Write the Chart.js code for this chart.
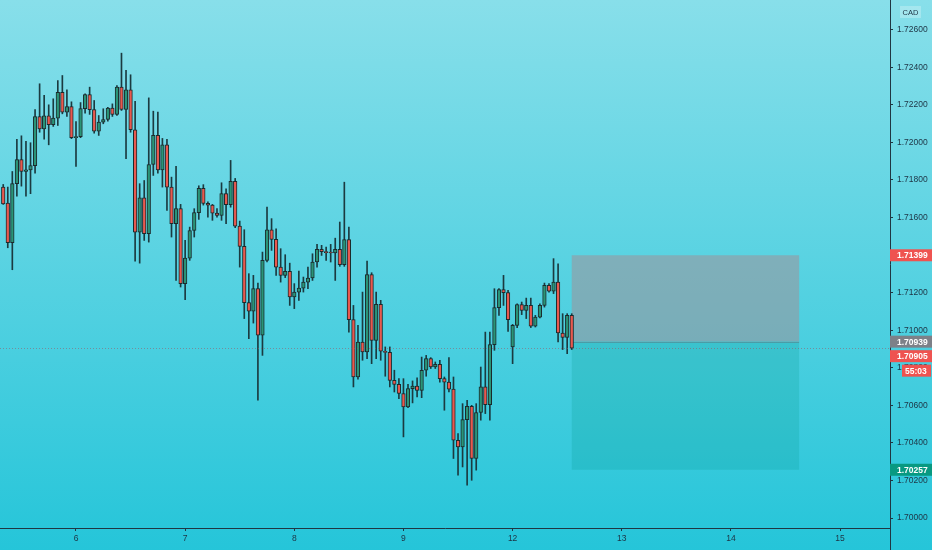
<!DOCTYPE html>
<html>
<head>
<meta charset="utf-8">
<script src="https://cdn.jsdelivr.net/npm/chart.js@4"></script>
<style>
  html, body { margin: 0; padding: 0; }
  #wrap { width: 932px; height: 550px; position: relative; }
</style>
</head>
<body>
<div id="wrap"><canvas id="graph"></canvas></div>
<script>
// hourly candles, index 0 = first bar on screen
const open = [
  1.71762, 1.71677, 1.71466, 1.71780, 1.71908, 1.71845, 1.71854, 1.71876, 1.72138, 1.72072,
  1.72142, 1.72094, 1.72129, 1.72267, 1.72161, 1.72191, 1.72025, 1.72030, 1.72180, 1.72255,
  1.72174, 1.72060, 1.72108, 1.72122, 1.72182, 1.72149, 1.72294, 1.72175, 1.72280, 1.72067,
  1.71522, 1.71705, 1.71514, 1.71882, 1.72038, 1.71854, 1.71987, 1.71762, 1.71567, 1.71647,
  1.71248, 1.71384, 1.71531, 1.71626, 1.71755, 1.71675, 1.71666, 1.71623, 1.71611, 1.71727,
  1.71668, 1.71792, 1.71554, 1.71446, 1.71147, 1.71102, 1.71221, 1.70973, 1.71372, 1.71535,
  1.71484, 1.71336, 1.71292, 1.71313, 1.71177, 1.71203, 1.71224, 1.71256, 1.71278, 1.71363,
  1.71430, 1.71418, 1.71413, 1.71411, 1.71430, 1.71349, 1.71482, 1.71056, 1.70751, 1.70937,
  1.70884, 1.71296, 1.70946, 1.71138, 1.70888, 1.70882, 1.70733, 1.70712, 1.70663, 1.70591,
  1.70689, 1.70703, 1.70680, 1.70787, 1.70849, 1.70804, 1.70818, 1.70742, 1.70724, 1.70686,
  1.70414, 1.70379, 1.70524, 1.70595, 1.70317, 1.70562, 1.70698, 1.70604, 1.70923, 1.71120,
  1.71216, 1.71200, 1.70911, 1.71026, 1.71136, 1.71106, 1.71132, 1.71021, 1.71070, 1.71132,
  1.71239, 1.71208, 1.71256, 1.70985, 1.70961, 1.71079
];
const high = [
  1.71776, 1.71762, 1.71845, 1.72016, 1.72035, 1.72005, 1.71998, 1.72174, 1.72312, 1.72250,
  1.72200, 1.72232, 1.72329, 1.72356, 1.72280, 1.72216, 1.72111, 1.72212, 1.72259, 1.72294,
  1.72223, 1.72143, 1.72179, 1.72187, 1.72205, 1.72303, 1.72475, 1.72383, 1.72360, 1.72218,
  1.71780, 1.71797, 1.72237, 1.72166, 1.72161, 1.72021, 1.72016, 1.71815, 1.71872, 1.71670,
  1.71478, 1.71549, 1.71647, 1.71769, 1.71775, 1.71684, 1.71670, 1.71647, 1.71785, 1.71753,
  1.71904, 1.71808, 1.71581, 1.71535, 1.71301, 1.71292, 1.71251, 1.71416, 1.71655, 1.71594,
  1.71540, 1.71434, 1.71402, 1.71357, 1.71248, 1.71315, 1.71283, 1.71336, 1.71407, 1.71457,
  1.71452, 1.71443, 1.71457, 1.71490, 1.71576, 1.71788, 1.71549, 1.71132, 1.71026, 1.71203,
  1.71368, 1.71306, 1.71203, 1.71159, 1.70911, 1.70911, 1.70787, 1.70742, 1.70742, 1.70712,
  1.70730, 1.70746, 1.70857, 1.70866, 1.70854, 1.70831, 1.70840, 1.70751, 1.70854, 1.70751,
  1.70450, 1.70609, 1.70627, 1.70600, 1.70609, 1.70804, 1.70990, 1.70990, 1.71221, 1.71221,
  1.71292, 1.71212, 1.71031, 1.71141, 1.71150, 1.71171, 1.71171, 1.71079, 1.71141, 1.71251,
  1.71248, 1.71381, 1.71354, 1.71088, 1.71088, 1.71088
];
const low = [
  1.71670, 1.71439, 1.71322, 1.71714, 1.71767, 1.71714, 1.71727, 1.71836, 1.72054, 1.72017,
  1.71987, 1.72085, 1.72090, 1.72152, 1.72138, 1.72020, 1.71872, 1.72025, 1.72155, 1.72149,
  1.72049, 1.72037, 1.72099, 1.72113, 1.72138, 1.72143, 1.72170, 1.71913, 1.72054, 1.71368,
  1.71357, 1.71478, 1.71469, 1.71824, 1.71836, 1.71762, 1.71638, 1.71496, 1.71265, 1.71230,
  1.71163, 1.71372, 1.71496, 1.71590, 1.71666, 1.71602, 1.71585, 1.71602, 1.71585, 1.71567,
  1.71655, 1.71546, 1.71336, 1.71062, 1.70955, 1.71038, 1.70627, 1.70866, 1.71363, 1.71425,
  1.71292, 1.71256, 1.71280, 1.71132, 1.71115, 1.71159, 1.71203, 1.71221, 1.71265, 1.71336,
  1.71398, 1.71372, 1.71363, 1.71265, 1.71340, 1.71340, 1.70990, 1.70698, 1.70740, 1.70840,
  1.70849, 1.70822, 1.70849, 1.70840, 1.70755, 1.70698, 1.70671, 1.70636, 1.70432, 1.70588,
  1.70613, 1.70645, 1.70641, 1.70755, 1.70796, 1.70796, 1.70724, 1.70574, 1.70671, 1.70317,
  1.70228, 1.70272, 1.70175, 1.70201, 1.70255, 1.70521, 1.70556, 1.70521, 1.70893, 1.71079,
  1.71132, 1.70994, 1.70822, 1.71014, 1.71083, 1.71062, 1.71014, 1.71017, 1.71065, 1.71123,
  1.71203, 1.71195, 1.70937, 1.70897, 1.70875, 1.70897
];
const close = [
  1.71673, 1.71466, 1.71780, 1.71908, 1.71845, 1.71854, 1.71876, 1.72138, 1.72072, 1.72142,
  1.72094, 1.72129, 1.72267, 1.72161, 1.72191, 1.72025, 1.72030, 1.72180, 1.72255, 1.72174,
  1.72060, 1.72108, 1.72122, 1.72182, 1.72149, 1.72294, 1.72175, 1.72280, 1.72067, 1.71522,
  1.71705, 1.71514, 1.71882, 1.72038, 1.71854, 1.71987, 1.71762, 1.71567, 1.71647, 1.71248,
  1.71384, 1.71531, 1.71626, 1.71755, 1.71675, 1.71666, 1.71623, 1.71611, 1.71727, 1.71668,
  1.71792, 1.71554, 1.71446, 1.71147, 1.71102, 1.71221, 1.70973, 1.71372, 1.71535, 1.71484,
  1.71336, 1.71292, 1.71313, 1.71177, 1.71203, 1.71224, 1.71256, 1.71278, 1.71363, 1.71430,
  1.71418, 1.71413, 1.71411, 1.71430, 1.71349, 1.71482, 1.71056, 1.70751, 1.70937, 1.70884,
  1.71296, 1.70946, 1.71138, 1.70888, 1.70882, 1.70733, 1.70712, 1.70663, 1.70591, 1.70689,
  1.70703, 1.70680, 1.70787, 1.70849, 1.70804, 1.70818, 1.70742, 1.70724, 1.70686, 1.70414,
  1.70379, 1.70524, 1.70595, 1.70317, 1.70562, 1.70698, 1.70604, 1.70923, 1.71120, 1.71216,
  1.71200, 1.71056, 1.71026, 1.71136, 1.71106, 1.71132, 1.71021, 1.71070, 1.71132, 1.71239,
  1.71208, 1.71256, 1.70985, 1.70961, 1.71079, 1.70905
];

// x axis: bar index where each day starts
const dayTicks = [16, 40, 64, 88, 112, 136, 160, 184];
const dayLabels = ['6', '7', '8', '9', '12', '13', '14', '15'];
const priceTicks = [1.700, 1.702, 1.704, 1.706, 1.708, 1.710, 1.712, 1.714, 1.716, 1.718, 1.720, 1.722, 1.724, 1.726];

// short position tool
const entryPrice = 1.70939;
const stopPrice = 1.71399;
const targetPrice = 1.70257;
const posStart = 125;
const posEnd = 175;
const lastPrice = 1.70905;
const countdown = '55:03';

const green = '#2a9478';
const red = '#e8594f';
const wickColor = '#1b3a40';
const axisColor = '#1f3642';
const textColor = '#1d3344';
const FONT = '"Liberation Sans", Arial, sans-serif';

const idx = open.map((_, i) => i);
const wicks = idx.map(i => ({ x: i, y: [low[i], high[i]] }));
const bodies = idx.map(i => ({ x: i, y: [open[i], close[i]] }));
const bodyColors = idx.map(i => close[i] >= open[i] ? green : red);

const backdrop = {
  id: 'backdrop',
  beforeDraw(chart) {
    const { ctx, width, height } = chart;
    const g = ctx.createLinearGradient(0, 0, 0, height);
    g.addColorStop(0, '#88dfea');
    g.addColorStop(1, '#25c5d9');
    ctx.save();
    ctx.fillStyle = g;
    ctx.fillRect(0, 0, width, height);
    ctx.restore();
  }
};

function tag(ctx, left, cy, w, text, bg) {
  ctx.fillStyle = bg;
  ctx.fillRect(left, cy - 6, w, 12);
  ctx.fillStyle = '#ffffff';
  ctx.fillText(text, left + 7, cy + 0.5);
}

const position = {
  id: 'position',
  beforeDatasetsDraw(chart) {
    const { ctx, scales: { x, y } } = chart;
    const x0 = x.getPixelForValue(posStart), x1 = x.getPixelForValue(posEnd);
    const yS = y.getPixelForValue(stopPrice);
    const yE = y.getPixelForValue(entryPrice);
    const yT = y.getPixelForValue(targetPrice);
    ctx.save();
    ctx.fillStyle = 'rgba(165,140,145,0.5)';
    ctx.fillRect(x0, yS, x1 - x0, yE - yS);
    ctx.fillStyle = 'rgba(0,150,136,0.2)';
    ctx.fillRect(x0, yE, x1 - x0, yT - yE);
    ctx.strokeStyle = 'rgba(90,110,120,0.45)';
    ctx.lineWidth = 1;
    ctx.beginPath();
    ctx.moveTo(x0, Math.round(yE) + 0.5);
    ctx.lineTo(x1, Math.round(yE) + 0.5);
    ctx.stroke();
    ctx.restore();
  },
  afterDatasetsDraw(chart) {
    const { ctx, chartArea, scales: { y } } = chart;
    const py = Math.round(y.getPixelForValue(lastPrice)) + 0.5;
    ctx.save();
    ctx.strokeStyle = 'rgba(150,90,100,0.55)';
    ctx.setLineDash([1, 2]);
    ctx.lineWidth = 1;
    ctx.beginPath();
    ctx.moveTo(chartArea.left, py);
    ctx.lineTo(chartArea.right, py);
    ctx.stroke();
    ctx.restore();
  },
  afterDraw(chart) {
    const { ctx, chartArea, scales: { y } } = chart;
    const left = chartArea.right;
    const w = chart.width - left;
    ctx.save();
    // price axis line runs down to the bottom edge
    ctx.strokeStyle = axisColor;
    ctx.lineWidth = 1;
    ctx.beginPath();
    ctx.moveTo(Math.round(left) + 0.5, chartArea.bottom);
    ctx.lineTo(Math.round(left) + 0.5, chart.height);
    ctx.stroke();
    ctx.font = 'bold 8.5px ' + FONT;
    ctx.textBaseline = 'middle';
    ctx.textAlign = 'left';
    tag(ctx, left, y.getPixelForValue(stopPrice), w, stopPrice.toFixed(5), '#ef5350');
    const yE = y.getPixelForValue(entryPrice);
    tag(ctx, left, yE, w, entryPrice.toFixed(5), '#7d8088');
    const yL = Math.max(y.getPixelForValue(lastPrice), yE + 14.5);
    tag(ctx, left, yL, w, lastPrice.toFixed(5), '#ef5350');
    ctx.fillStyle = '#ef5350';
    ctx.fillRect(left + 12, yL + 8.5, w - 13, 12);
    ctx.fillStyle = '#ffffff';
    ctx.fillText(countdown, left + 15, yL + 15);
    tag(ctx, left, y.getPixelForValue(targetPrice), w, targetPrice.toFixed(5), '#089981');
    // currency badge
    ctx.fillStyle = 'rgba(255,255,255,0.25)';
    ctx.fillRect(left + 10, 6, 21, 12);
    ctx.fillStyle = textColor;
    ctx.font = '7.5px ' + FONT;
    ctx.textAlign = 'center';
    ctx.fillText('CAD', left + 20.5, 12.5);
    ctx.restore();
  }
};

const ctx = document.getElementById('graph');

new Chart(ctx, {
  type: 'bar',
  data: {
    datasets: [
      {
        label: 'wick',
        data: wicks,
        backgroundColor: wickColor,
        barThickness: 1,
        minBarLength: 1,
        grouped: false,
        order: 2
      },
      {
        label: 'body',
        data: bodies,
        backgroundColor: bodyColors,
        borderColor: '#1c2a2c',
        borderWidth: 1,
        borderSkipped: false,
        barThickness: 3.6,
        minBarLength: 1,
        grouped: false,
        order: 1
      }
    ]
  },
  options: {
    responsive: true,
    maintainAspectRatio: false,
    animation: false,
    layout: { padding: 0 },
    plugins: {
      legend: { display: false },
      tooltip: { enabled: false }
    },
    scales: {
      x: {
        type: 'linear',
        min: -0.71,
        max: 194.98,
        offset: false,
        grid: { drawOnChartArea: false, offset: false, tickLength: 3, color: axisColor },
        border: { display: true, color: axisColor },
        ticks: {
          autoSkip: false,
          maxRotation: 0,
          padding: 3,
          color: textColor,
          font: { family: FONT, size: 8.5 },
          callback: v => dayLabels[dayTicks.indexOf(v)]
        },
        afterBuildTicks: s => { s.ticks = dayTicks.map(v => ({ value: v })); },
        afterFit: s => { s.height = 22; s.paddingLeft = 0; s.paddingRight = 0; }
      },
      y: {
        position: 'right',
        min: 1.69947,
        max: 1.72758,
        grid: { drawOnChartArea: false, tickLength: 3, color: axisColor },
        border: { display: true, color: axisColor },
        ticks: {
          autoSkip: false,
          padding: 4,
          color: textColor,
          font: { family: FONT, size: 8.5 },
          callback: v => v.toFixed(5)
        },
        afterBuildTicks: s => { s.ticks = priceTicks.map(v => ({ value: v })); },
        afterFit: s => { s.width = 42; s.paddingTop = 0; s.paddingBottom = 0; }
      }
    }
  },
  plugins: [backdrop, position]
});
</script>
</body>
</html>
